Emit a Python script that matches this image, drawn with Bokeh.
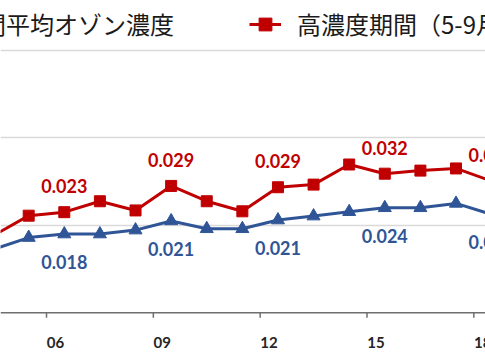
from bokeh.plotting import figure
from bokeh.models import (Range1d, FixedTicker, LabelSet, Span,
                          ColumnDataSource, Legend, LegendItem)
from bokeh.core.properties import value
from bokeh.embed import file_html
from bokeh.resources import INLINE

# ---- data ----
years = list(range(2004, 2019))
annual_avg = [0.0145, 0.0172, 0.0180, 0.0180, 0.0189, 0.0210, 0.0192, 0.0192,
              0.0212, 0.0221, 0.0231, 0.0240, 0.0240, 0.0250, 0.0225]
high_season = [0.0176, 0.0222, 0.0230, 0.0255, 0.0234, 0.0290, 0.0255, 0.0232,
               0.0287, 0.0293, 0.0339, 0.0318, 0.0325, 0.0330, 0.0301]
label_years = [2006, 2009, 2012, 2015, 2018]
tick_years = [2006, 2009, 2012, 2015, 2018]
tick_labels = ["06", "09", "12", "15", "18"]
series_names = ["年間平均オゾン濃度", "高濃度期間（5-9月）平均オゾン濃度"]
grid_values = [0.02, 0.04, 0.06]

RED = "#C00000"
BLUE = "#2F5597"
AXIS = "#6F6F6F"
PX = 4375.0  # screen px per concentration unit

xs = [y + 0.5 for y in years]

p = figure(width=485, height=360, output_backend="svg", toolbar_location=None,
           x_range=Range1d(2004.708, 2018.328),
           y_range=Range1d(-47.7 / PX, 312.3 / PX),
           x_axis_location=None, y_axis_location=None,
           min_border_left=0, min_border_right=0, min_border_top=0,
           min_border_bottom=0)
p.outline_line_color = None
p.background_fill_color = "white"
p.xgrid.visible = False
p.ygrid.ticker = FixedTicker(ticks=grid_values)
p.ygrid.grid_line_color = "#D9D9D9"
p.ygrid.grid_line_width = 1.5

# baseline (x axis line), tick marks and tick labels
p.add_layout(Span(location=0, dimension="width", line_color=AXIS, line_width=1.5))
p.segment(x0=tick_years, y0=[0] * len(tick_years), x1=tick_years,
          y1=[-5 / PX] * len(tick_years), line_color=AXIS, line_width=1.5)
p.text(x=[t + 0.25 for t in tick_years], y=[-29.4 / PX] * len(tick_years),
       text=tick_labels, text_align="center", text_baseline="middle",
       text_font=value("Lato"), text_font_style="bold",
       text_font_size="15px", text_color="#262626")

r_line = p.line(xs, high_season, line_color=RED, line_width=3)
r_pts = p.scatter(xs, high_season, marker="square", size=11,
                  fill_color=RED, line_color=RED)
b_line = p.line(xs, annual_avg, line_color=BLUE, line_width=3)
b_pts = p.scatter(xs, annual_avg, marker="triangle", size=13,
                  fill_color=BLUE, line_color=BLUE)

red_lbl = ColumnDataSource(dict(
    x=[y + 0.5 for y in label_years],
    y=[high_season[years.index(y)] for y in label_years],
    text=[f"{high_season[years.index(y)]:.3f}" for y in label_years]))
blue_lbl = ColumnDataSource(dict(
    x=[y + 0.5 for y in label_years],
    y=[annual_avg[years.index(y)] for y in label_years],
    text=[f"{annual_avg[years.index(y)]:.3f}" for y in label_years]))
p.add_layout(LabelSet(x="x", y="y", text="text", source=red_lbl, y_offset=26,
                      text_align="center", text_baseline="middle",
                      text_font=value("Lato"), text_font_style="bold",
                      text_font_size="18px", text_color=RED))
p.add_layout(LabelSet(x="x", y="y", text="text", source=blue_lbl, y_offset=-28,
                      text_align="center", text_baseline="middle",
                      text_font=value("Lato"), text_font_style="bold",
                      text_font_size="18px", text_color=BLUE))

legend = Legend(items=[LegendItem(label=series_names[0], renderers=[b_line, b_pts]),
                       LegendItem(label=series_names[1], renderers=[r_line, r_pts])],
                orientation="horizontal", location=(-90, 319),
                glyph_width=32, glyph_height=32, label_standoff=16, spacing=75,
                padding=0, margin=0, border_line_color=None,
                background_fill_alpha=0,
                label_text_font="Noto Sans CJK JP", label_text_font_size="24px",
                label_text_color="#1A1A1A")
p.add_layout(legend)

open("out.html", "w").write(file_html(p, INLINE))
